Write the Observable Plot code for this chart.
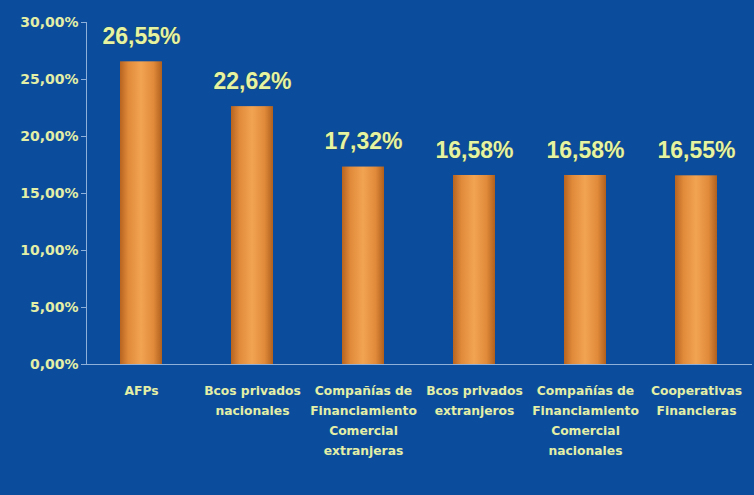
<!DOCTYPE html>
<html><head><meta charset="utf-8">
<script src="https://cdn.jsdelivr.net/npm/d3@7"></script>
<script src="https://cdn.jsdelivr.net/npm/@observablehq/plot@0.6"></script>
<style>
html,body{margin:0;padding:0;background:#0b4c9d;}
#chart{width:754px;height:495px;overflow:hidden;}
</style></head><body><div id="chart"></div>
<script>
const categories = ["AFPs","Bcos privados\nnacionales","Compañías de\nFinanciamiento\nComercial\nextranjeras","Bcos privados\nextranjeros","Compañías de\nFinanciamiento\nComercial\nnacionales","Cooperativas\nFinancieras"];
const values = [0.2655, 0.2262, 0.1732, 0.1658, 0.1658, 0.1655];
const valueLabels = ["26,55%","22,62%","17,32%","16,58%","16,58%","16,55%"];
const yTicks = [0, 0.05, 0.10, 0.15, 0.20, 0.25, 0.30];

const data = categories.map((c,i)=>({cat:c, v:values[i], label:valueLabels[i]}));
const fmt = d => (d*100).toFixed(2).replace(".", ",") + "%";
const textCol = "#e3efa6";

const plot = Plot.plot({
  width: 754, height: 495,
  marginLeft: 86, marginRight: 2, marginTop: 22, marginBottom: 131,
  style: {background: "#0b4c9d", color: textCol, fontFamily: "DejaVu Sans", fontWeight: "bold"},
  x: {domain: categories, paddingInner: 0.62, paddingOuter: 0.31, label: null},
  y: {domain: [0, 0.30], label: null},
  marks: [
    Plot.barY(data, {x: "cat", y: "v", fill: "url(#barGrad)"}),
    Plot.axisY({ticks: yTicks, tickFormat: fmt, tickSize: 5, stroke: "#8fb0d8", fontSize: 14, fill: textCol, tickPadding: 3}),
    Plot.frame({anchor: "left", stroke: "#8fb0d8"}),
    Plot.ruleY([0], {stroke: "#8fb0d8"}),
    Plot.axisX({tickSize: 0, fontSize: 12.3, fill: textCol, tickPadding: 17, lineHeight: 1.6, textAnchor: "middle"}),
    Plot.text(data, {x: "cat", y: "v", text: "label", dy: -25, fontSize: 23, fontFamily: "Liberation Sans", fontWeight: "bold", fill: "#e6f4a2", stroke: "#2a4a4a", strokeWidth: 0.6})
  ]
});
const svg = d3.select(plot);
const defs = svg.insert("defs", ":first-child");
const g = defs.append("linearGradient").attr("id","barGrad").attr("x1","0").attr("x2","1").attr("y1","0").attr("y2","0");
[[0,"#b86420"],[0.2,"#e08a3a"],[0.5,"#f2a452"],[0.8,"#e08a3a"],[1,"#b0601e"]].forEach(([o,c])=>g.append("stop").attr("offset",o).attr("stop-color",c));
document.getElementById("chart").appendChild(plot);
</script></body></html>
